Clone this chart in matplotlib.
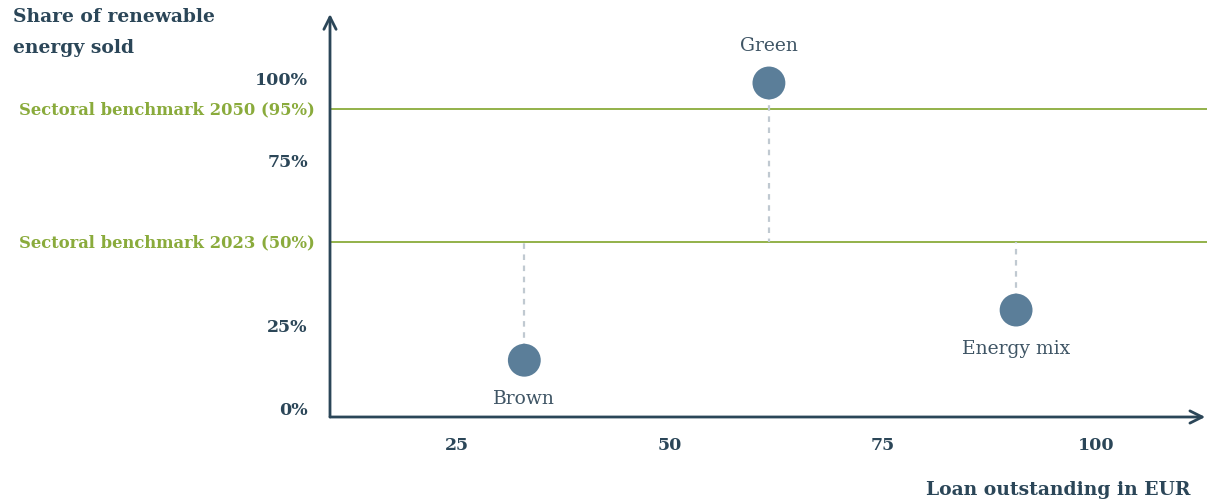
import matplotlib.pyplot as plt
from matplotlib.transforms import blended_transform_factory

# data
names = ['Brown', 'Green', 'Energy mix']
loan = [32.9, 61.6, 90.6]
share = [14.2, 98.2, 29.4]
label_side = ['below', 'above', 'below']
bench_labels = ['Sectoral benchmark 2023 (50%)', 'Sectoral benchmark 2050 (95%)']
bench_pos = [50.0, 90.3]
xticks = [25, 50, 75, 100]
yticks = [0, 25, 75, 100]
ytick_labels = ['0%', '25%', '75%', '100%']

navy = '#2b4658'
green = '#8aab3c'
dot = '#5b7e99'
dash = '#c0c9d1'

plt.rcParams['font.family'] = ['DejaVu Serif']

fig = plt.figure(figsize=(12.07, 5.02), dpi=100)
ax = fig.add_axes([330/1207, 84/502, 877/1207, 403/502])
ax.set_xlim(10.1, 113.0)
ax.set_ylim(-3.0, 119.1)
for s in ax.spines.values():
    s.set_visible(False)

# axis arrows
ax.annotate('', xy=(0, 1), xytext=(0, 0), xycoords='axes fraction',
            arrowprops=dict(arrowstyle='->', color=navy, lw=2, mutation_scale=22,
                            shrinkA=0, shrinkB=0))
ax.annotate('', xy=(0.998, 0), xytext=(0, 0), xycoords='axes fraction',
            arrowprops=dict(arrowstyle='->', color=navy, lw=2, mutation_scale=22,
                            shrinkA=0, shrinkB=0))

ax.set_xticks(xticks)
ax.set_xticklabels([str(t) for t in xticks])
ax.set_yticks(yticks)
ax.set_yticklabels(ytick_labels)
ax.tick_params(axis='x', length=0, pad=14, labelsize=12.5, labelcolor=navy)
ax.tick_params(axis='y', length=0, pad=16, labelsize=12.5, labelcolor=navy)
for lab in ax.get_xticklabels() + ax.get_yticklabels():
    lab.set_fontweight('bold')

# benchmark lines
trans = blended_transform_factory(ax.transAxes, ax.transData)
for lab, pos in zip(bench_labels, bench_pos):
    ax.axhline(pos, color=green, lw=1.3, zorder=1)
    ax.text(-0.017, pos, lab, transform=trans, ha='right', va='center',
            color=green, fontsize=11.8, fontweight='bold')

# dashed links to 2023 benchmark
ax.vlines(loan, share, bench_pos[0], colors=dash, linestyles=(0, (2.5, 2.5)), lw=1.6, zorder=2)
ax.scatter(loan, share, s=560, color=dot, zorder=3, edgecolors='none')
for n, x, y, side in zip(names, loan, share, label_side):
    off = 27 if side == 'above' else -27
    ax.annotate(n, (x, y), xytext=(0, off), textcoords='offset points',
                ha='center', va='center', fontsize=13.5, color='#3f5565')

fig.text(13/1207, 1 - 8/502, 'Share of renewable\nenergy sold', ha='left', va='top',
         fontsize=13.5, fontweight='bold', color=navy, linespacing=1.9)
fig.text(926/1207, 1 - 490/502, 'Loan outstanding in EUR', ha='left', va='center',
         fontsize=13.5, fontweight='bold', color=navy)

fig.savefig('out.png', dpi=100)
